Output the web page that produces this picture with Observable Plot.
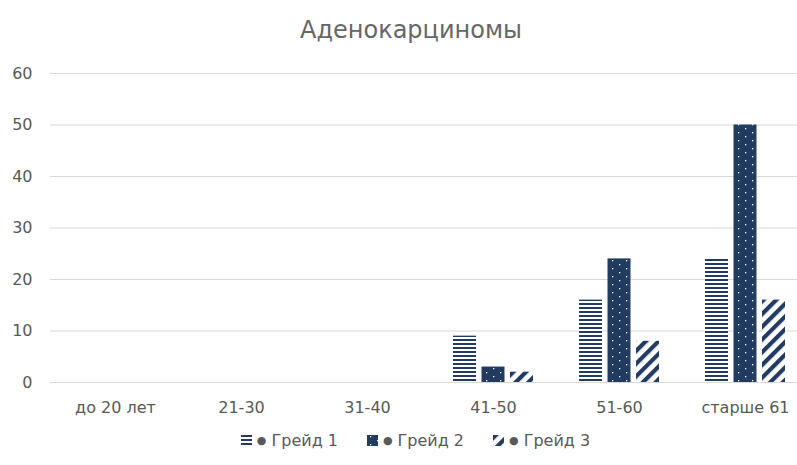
<!DOCTYPE html>
<html><head><meta charset="utf-8">
<script src="https://cdn.jsdelivr.net/npm/d3@7"></script>
<script src="https://cdn.jsdelivr.net/npm/@observablehq/plot@0.6"></script>
<style>
body{margin:0;background:#fff;font-family:"DejaVu Sans",sans-serif;color:#595959;width:797px;height:465px;overflow:hidden;}
#title{box-sizing:border-box;width:797px;height:55px;padding-top:16px;padding-left:25px;text-align:center;font-size:24px;color:#666666;}
#chart{height:370px;}
#legend{width:797px;height:30px;display:flex;justify-content:center;align-items:center;gap:29px;font-size:16px;color:#595959;padding-left:34px;box-sizing:border-box;}
.item{display:flex;align-items:center;}
.item svg{margin-right:5px;}
.dot{font-size:11px;margin-right:5px;}
</style></head><body>
<div id="title">Аденокарциномы</div>
<div id="chart"></div>
<div id="legend"></div>
<script>
const categories = ["до 20 лет", "21-30", "31-40", "41-50", "51-60", "старше 61"];
const grade1 = [0, 0, 0, 9, 16, 24];
const grade2 = [0, 0, 0, 3, 24, 50];
const grade3 = [0, 0, 0, 2, 8, 16];
const seriesNames = ["Грейд 1", "Грейд 2", "Грейд 3"];
const yTicks = [0, 10, 20, 30, 40, 50, 60];

const navy = "#213b63";
const patIds = ["pat1", "pat2", "pat3"];
const rows = vals => categories.map((c, i) => ({cat: c, value: vals[i]}));

const chart = Plot.plot({
  width: 797, height: 370,
  marginLeft: 50, marginRight: 0, marginTop: 18, marginBottom: 43,
  style: {fontFamily: "DejaVu Sans", fontSize: "16px", color: "#595959", background: "#fff"},
  x: {domain: categories, range: [52, 808], padding: 0, label: null},
  y: {domain: [0, 60], label: null},
  marks: [
    Plot.ruleY(yTicks, {stroke: "#d9d9d9", strokeWidth: 1}),
    Plot.barY(rows(grade1), {x: "cat", y: "value", fill: "url(#pat1)", insetLeft: 23, insetRight: 80}),
    Plot.barY(rows(grade2), {x: "cat", y: "value", fill: "url(#pat2)", insetLeft: 51.5, insetRight: 51.5}),
    Plot.barY(rows(grade3), {x: "cat", y: "value", fill: "url(#pat3)", insetLeft: 80, insetRight: 23}),
    Plot.axisX({tickSize: 0, tickPadding: 19}),
    Plot.axisY({ticks: yTicks, tickSize: 0, tickPadding: 18})
  ]
});

d3.select(chart).insert("defs", ":first-child").html(`
  <pattern id="pat1" patternUnits="userSpaceOnUse" width="4" height="4">
    <rect width="4" height="4" fill="#ffffff"/>
    <rect width="4" height="2" fill="${navy}"/>
  </pattern>
  <pattern id="pat2" patternUnits="userSpaceOnUse" width="14" height="8">
    <rect width="14" height="8" fill="${navy}"/>
    <rect x="3" y="1" width="1.3" height="1.3" fill="#ffffff"/>
    <rect x="10" y="5" width="1.3" height="1.3" fill="#ffffff"/>
  </pattern>
  <pattern id="pat3" patternUnits="userSpaceOnUse" width="9" height="9" patternTransform="rotate(45)">
    <rect width="9" height="9" fill="#ffffff"/>
    <rect width="4.2" height="9" fill="${navy}"/>
  </pattern>`);
document.getElementById("chart").appendChild(chart);

const legend = d3.select("#legend");
seriesNames.forEach((name, i) => {
  const item = legend.append("div").attr("class", "item");
  const sw = item.append("svg").attr("width", 11).attr("height", 11);
  sw.append("rect").attr("width", 11).attr("height", 11).attr("fill", `url(#${patIds[i]})`);
  item.append("span").attr("class", "dot").text("●");
  item.append("span").text(name);
});
</script>
</body></html>
